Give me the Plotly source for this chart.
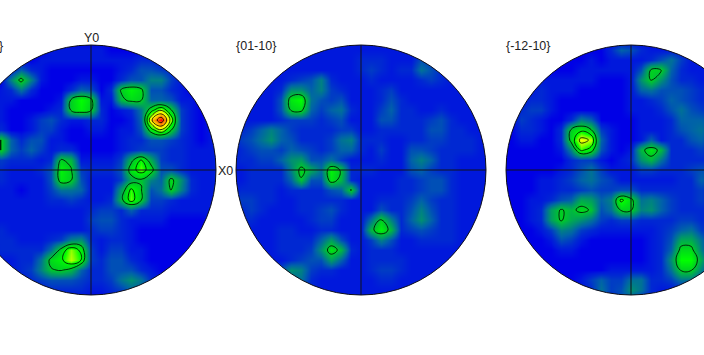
import numpy as np
import plotly.graph_objects as go

# Intensity: rows top to bottom, one base-36 digit per node
panel1_rows = [
"11111 11111 11111 11111 11111 11","11111 11112 22222 11111 11111 11","11111 11122 22222 22233 22211 11",
"11111 26321 11111 12355 43211 11","11111 8f821 11221 13558 84221 11","11112 37311 13651 3ehf5 53211 21",
"11122 21111 2eif2 2cfe6 65221 21","11122 11112 3ehe3 1237g me421 22","11122 11245 32233 1126q zl421 22",
"11123 11244 21122 1225g me421 22","1358e 63552 21111 12335 54321 23","1358e 64642 33111 12344 43322 23",
"11234 33323 ec222 24cib 43322 23","11233 22235 he433 35gkg 55322 23","11223 22225 ge522 24bd8 6f932 23",
"11222 21224 77622 2aje5 7e832 23","11222 22223 34322 3cke4 43222 23","11222 22222 22234 43633 32222 23",
"11222 22222 22245 53222 21111 22","11223 22222 22234 43211 11111 22","11233 32223 48932 33211 11111 22",
"11223 33337 flh42 44221 11111 11","11222 2337f hmi43 55321 11111 11","11111 2348d ec633 55532 11111 11",
"11111 12345 55433 47973 21111 11","11111 11123 33322 34663 11111 11","11111 11111 11111 11111 11111 11",
]
panel2_rows = [
"22222 22222 22222 22222 22222 22","22222 22222 22222 22222 22222 22","22222 22222 22233 32225 42222 22",
"22222 22222 22234 32337 53222 22","22222 23458 32223 22223 43222 22","22222 39968 43222 34222 22222 22",
"22222 5gi75 45222 35322 22222 22","22222 5ef64 67322 46332 23222 22","22222 34443 45222 55333 45322 22",
"23468 64333 34422 33333 55332 22","24579 65333 47833 32233 44333 22","23455 46543 46632 42255 43333 22",
"23344 69a55 74222 32268 63322 22","22333 38fb7 hd333 22256 43322 22","22333 36d55 gc322 22334 55322 22",
"23333 23333 56e22 22334 55322 22","34433 22333 33222 33346 43322 22","33432 22334 53222 53358 53322 22",
"23322 22234 42227 e8369 63322 22","22222 33223 3222c hc345 43322 22","22222 33336 a5224 85223 33322 22",
"22222 33349 gc323 33222 22222 22","22222 23455 a6223 33322 22222 22","22222 59843 32223 44322 22222 22",
"22222 36732 22222 33222 22222 22","22222 22332 22222 22222 22222 22","22222 22222 22222 22222 22222 22",
]
panel3_rows = [
"11111 11111 11111 11111 11111 11","11111 11111 13653 22222 22222 22","11111 11112 12222 35742 22222 22",
"11111 11122 22225 ee632 22222 22","11112 22222 11129 e9533 22222 22","11123 22211 11126 75554 33222 22",
"11233 21111 11122 34654 33222 22","11344 21111 11122 23575 43222 22","11432 11386 11112 22366 65322 22",
"11332 13ehe 42112 22356 75322 22","11221 13fom 62112 62335 64322 22","11111 128jg 5212c gc333 43222 22",
"11111 11344 21239 c7333 33222 22","11111 12357 42224 43334 55322 22","11112 23467 54222 22233 65322 22",
"11112 23345 44553 33333 43322 22","11122 356ba 68jf7 86433 43322 22","11123 aecfd 57ee8 96433 33222 22",
"11123 aeb97 43443 33344 33222 22","11112 48743 22222 23467 43222 22","11111 25421 11111 235bb 73222 22",
"11111 12211 11111 236ff 83222 22","11111 11111 11111 239ii b4222 22","11111 11111 12222 237ee 83222 22",
"11111 11124 64477 33477 42222 22","11111 11123 74597 32222 22222 22","11111 11111 22552 22222 22222 22",
]
panel_labels = ["{0001}", "{01-10}", "{-12-10}"]
axis_labels = ["Y0", "X0"]
contour_start, contour_end, contour_step = 13.5, 31.5, 4.5

CX = [91, 361, 631]
CY, R, STEP = 170, 125, 10
offs = np.arange(-13, 14) * STEP
colorscale = [[0, "#0000e6"], [1/35, "#0000e6"], [2/35, "#0018dc"], [3/35, "#0028d2"], [4/35, "#003cc4"],
              [6/35, "#0062a8"], [9/35, "#009070"], [14/35, "#00d020"], [18/35, "#00ff00"],
              [21/35, "#90ff00"], [24/35, "#ffff00"], [30/35, "#ff8000"], [35/35, "#ff0000"]]


def decode(rows):
    out = []
    for r in rows:
        r = r.replace(" ", "")
        assert len(r) == 27
        out.append([int(c, 36) for c in r])
    return out


fig = go.Figure()
shapes = []
theta = np.linspace(0, 2 * np.pi, 361)
for cx, rows in zip(CX, [panel1_rows, panel2_rows, panel3_rows]):
    z = decode(rows)
    fig.add_trace(go.Heatmap(x=cx + offs, y=CY + offs, z=z, zmin=0, zmax=35, colorscale=colorscale,
                             zsmooth="best", showscale=False, hoverinfo="skip"))
    fig.add_trace(go.Contour(x=cx + offs, y=CY + offs, z=z, showscale=False, hoverinfo="skip",
                             contours=dict(coloring="none", start=contour_start, end=contour_end, size=contour_step),
                             line=dict(color="#000000", width=0.8, smoothing=1.3)))
    ring = " ".join(("M" if i == 0 else "L") + f"{cx + R * np.cos(t):.2f},{CY + R * np.sin(t):.2f}"
                    for i, t in enumerate(theta)) + " Z"
    box = f"M{cx-135},{CY-135} L{cx+135},{CY-135} L{cx+135},{CY+135} L{cx-135},{CY+135} Z"
    shapes.append(dict(type="path", path=box + " " + ring, fillcolor="white", fillrule="evenodd",
                       line=dict(width=0), layer="above", xref="x", yref="y"))
for cx in CX:
    line = dict(color="#101018", width=1)
    shapes.append(dict(type="circle", x0=cx - R, x1=cx + R, y0=CY - R, y1=CY + R, line=line, layer="above"))
    shapes.append(dict(type="line", x0=cx - R, x1=cx + R, y0=CY, y1=CY, line=line, layer="above"))
    shapes.append(dict(type="line", x0=cx, x1=cx, y0=CY - R, y1=CY + R, line=line, layer="above"))

font = dict(family="Liberation Sans", size=12.5, color="#222222")
ann = [
    dict(x=3, y=46, text=panel_labels[0], xanchor="right"),
    dict(x=236, y=46, text=panel_labels[1], xanchor="left"),
    dict(x=506, y=46, text=panel_labels[2], xanchor="left"),
    dict(x=91, y=38, text=axis_labels[0], xanchor="center"),
    dict(x=218, y=171, text=axis_labels[1], xanchor="left"),
]
for a in ann:
    a.update(showarrow=False, font=font, yanchor="middle", xref="x", yref="y",
             borderpad=0, borderwidth=0)

fig.update_layout(width=704, height=355, margin=dict(l=0, r=0, t=0, b=0), paper_bgcolor="white",
                  plot_bgcolor="white", showlegend=False, shapes=shapes, annotations=ann,
                  xaxis=dict(range=[0, 704], visible=False),
                  yaxis=dict(range=[355, 0], visible=False))
fig.write_html("out.html", config=dict(displayModeBar=False),
               post_script="document.body.style.margin='0';document.body.style.overflow='hidden';")
